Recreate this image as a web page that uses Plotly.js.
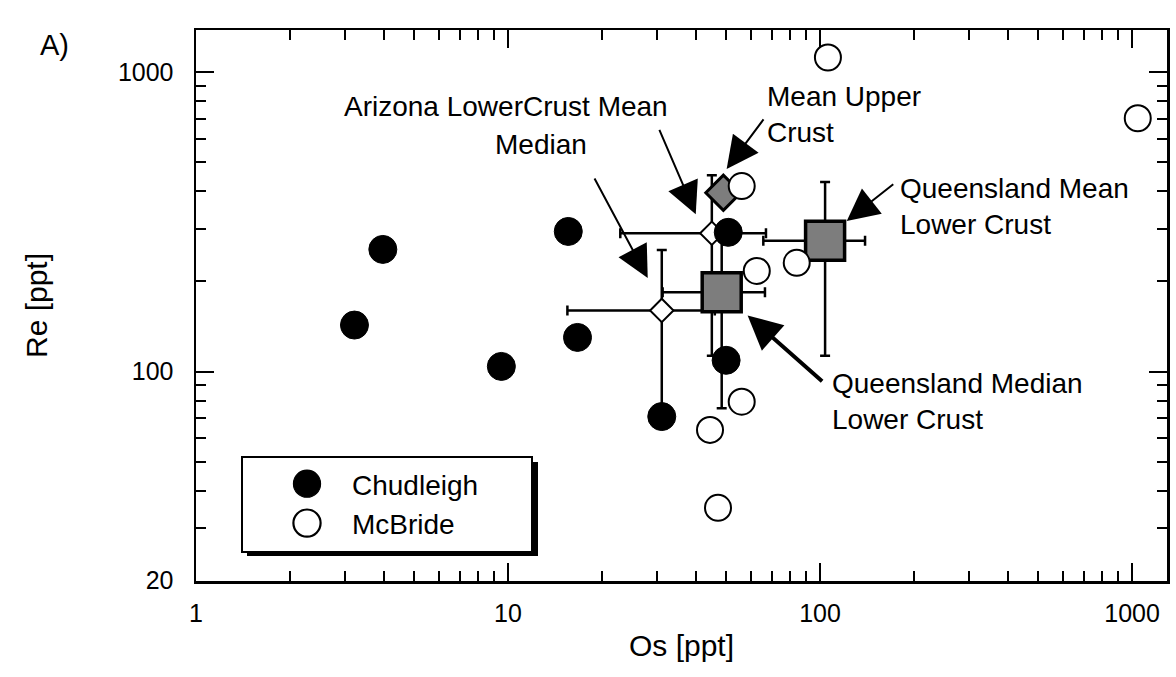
<!DOCTYPE html>
<html>
<head>
<meta charset="utf-8">
<script src="https://cdn.plot.ly/plotly-3.0.1.min.js"></script>
<style>html,body{margin:0;padding:0;background:#fff;}#chart{width:1176px;height:677px;}</style>
</head>
<body>
<div id="chart"></div>
<script>
// ---- data (Os, Re in ppt) ----
const chudOs = [3.97, 3.22, 9.52, 15.6, 16.7, 31.1, 50.8, 50.0];
const chudRe = [256, 143, 104, 294, 130, 70.7, 292, 109];

const mcbOs = [106, 1043, 56.1, 62.7, 84.2, 56.1, 44.4, 47.1];
const mcbRe = [1122, 703, 417, 217, 231, 79.3, 63.8, 35];

// reference values with ranges [low, high]
const azMeanOs = 45.0,  azMeanRe = 290;
const azMeanOsRange = [22.9, 67.1], azMeanReRange = [113, 453];

const azMedOs = 31.1,  azMedRe = 160;
const azMedOsRange = [15.5, 46.0], azMedReRange = [70.7, 255];

const qlMedOs = 48.4,  qlMedRe = 184;
const qlMedOsRange = [31.3, 66.6], qlMedReRange = [75.3, 286];

const qlMeanOs = 103.8, qlMeanRe = 273.5;
const qlMeanOsRange = [65.8, 139.4], qlMeanReRange = [113, 430];

const upperOs = 49.0, upperRe = 396;

const xTickVals = [1, 10, 100, 1000];
const xTickText = ['1', '10', '100', '1000'];
const yTickVals = [20, 100, 1000];
const yTickText = ['20', '100', '1000'];
const xMinor = [2,3,4,5,6,7,8,9,20,30,40,50,60,70,80,90,200,300,400,500,600,700,800,900];
const yMinor = [30,40,50,60,70,80,90,200,300,400,500,600,700,800,900];

function errBar(v, r) { return {type:'data', symmetric:false, array:[r[1]-v], arrayminus:[v-r[0]], color:'#000', thickness:2.5, width:5}; }

const FONT = 'Liberation Sans, Arial, Helvetica, sans-serif';

const traces = [
  {x:[azMeanOs], y:[azMeanRe], mode:'markers', showlegend:false, hoverinfo:'skip',
   error_x: errBar(azMeanOs, azMeanOsRange), error_y: errBar(azMeanRe, azMeanReRange),
   marker:{symbol:'diamond', size:18, color:'#fff', line:{color:'#000', width:2}}},
  {x:[azMedOs], y:[azMedRe], mode:'markers', showlegend:false, hoverinfo:'skip',
   error_x: errBar(azMedOs, azMedOsRange), error_y: errBar(azMedRe, azMedReRange),
   marker:{symbol:'diamond', size:18, color:'#fff', line:{color:'#000', width:2}}},
  {x:[qlMedOs], y:[qlMedRe], mode:'markers', showlegend:false, hoverinfo:'skip',
   error_x: errBar(qlMedOs, qlMedOsRange), error_y: errBar(qlMedRe, qlMedReRange),
   marker:{symbol:'square', size:39, color:'#7d7d7d', line:{color:'#000', width:3.5}}},
  {x:[qlMeanOs], y:[qlMeanRe], mode:'markers', showlegend:false, hoverinfo:'skip',
   error_x: errBar(qlMeanOs, qlMeanOsRange), error_y: errBar(qlMeanRe, qlMeanReRange),
   marker:{symbol:'square', size:39, color:'#7d7d7d', line:{color:'#000', width:3.5}}},
  {x:[upperOs], y:[upperRe], mode:'markers', showlegend:false, hoverinfo:'skip',
   marker:{symbol:'diamond', size:27, color:'#7d7d7d', line:{color:'#000', width:3}}},
  {x:chudOs, y:chudRe, name:'Chudleigh', mode:'markers',
   marker:{symbol:'circle', size:28, color:'#000', line:{color:'#000', width:1}}},
  {x:mcbOs, y:mcbRe, name:'McBride', mode:'markers',
   marker:{symbol:'circle', size:26, color:'#fff', line:{color:'#000', width:2}}}
];

const annFont = {family: FONT, size: 28, color: '#000'};
function arrow(x, y, ax, ay, w, s) {
  return {x: Math.log10(x), y: Math.log10(y), xref:'x', yref:'y', text:'', showarrow:true,
          ax: ax, ay: ay, arrowhead: 2, arrowsize: s, arrowwidth: w, arrowcolor:'#000', standoff:0};
}
function label(x, y, text, xanchor) {
  return {x: Math.log10(x), y: Math.log10(y), xref:'x', yref:'y', text: text, showarrow:false,
          xanchor: xanchor, yanchor:'middle', align:'left', font: annFont};
}

const annotations = [
  label(2.93, 769, 'Arizona LowerCrust Mean', 'left'),
  label(12.76, 573, 'Median', 'center'),
  label(66.6, 726, 'Mean Upper<br>Crust', 'left'),
  label(178, 357, 'Queensland Mean<br>Lower Crust', 'left'),
  label(107.7, 79.3, 'Queensland Median<br>Lower Crust', 'left'),
  arrow(39.96, 335.5, -37, -86, 2, 3.2),
  arrow(28.04, 205.5, -54, -101, 2, 3.2),
  arrow(50.2, 476, 38, -51, 2, 3.2),
  arrow(121.8, 318.7, 48, -38, 2, 3.2),
  arrow(58.6, 153.9, 76, 67, 4, 1.7),
  {x:-0.163, y:0.973, xref:'paper', yref:'paper', text:'A)', showarrow:false,
   xanchor:'left', yanchor:'middle', font:{family: FONT, size: 29, color:'#000'}}
];

// legend frame with drop shadow (plot area spans 196..1167 x 30..581 px)
function px2paperX(p) { return (p - 196) / 971; }
function px2paperY(p) { return (581 - p) / 551; }
const shapes = [
  {type:'rect', xref:'paper', yref:'paper', layer:'above',
   x0:px2paperX(247), x1:px2paperX(538), y0:px2paperY(556), y1:px2paperY(462),
   fillcolor:'#000', line:{width:0}},
  {type:'rect', xref:'paper', yref:'paper', layer:'above',
   x0:px2paperX(242), x1:px2paperX(532), y0:px2paperY(552), y1:px2paperY(457),
   fillcolor:'#fff', line:{color:'#000', width:2}}
];

const axisCommon = {
  type:'log', showline:true, linecolor:'#000', linewidth:2.5, mirror:'ticks',
  ticks:'inside', ticklen:18, tickwidth:2, tickcolor:'#000',
  showgrid:false, zeroline:false,
  tickfont:{family: FONT, size: 25, color:'#000'}
};

const layout = {
  width:1176, height:677,
  margin:{l:196, r:9, t:30, b:96, autoexpand:false},
  paper_bgcolor:'#fff', plot_bgcolor:'#fff',
  font:{family: FONT, color:'#000'},
  showlegend:true,
  legend:{x:px2paperX(262), y:px2paperY(459), xanchor:'left', yanchor:'top',
          bgcolor:'rgba(0,0,0,0)', borderwidth:0,
          font:{family: FONT, size: 28, color:'#000'}, itemwidth:80, tracegroupgap:0},
  xaxis: Object.assign({}, axisCommon, {
    range:[0, 3.112], tickmode:'array', tickvals:xTickVals, ticktext:xTickText,
    ticklabelstandoff: 8,
    minor:{tickmode:'array', tickvals:xMinor, ticks:'inside', ticklen:10, tickwidth:2, tickcolor:'#000', showgrid:false},
    title:{text:'Os [ppt]', font:{family: FONT, size: 30, color:'#000'}, standoff: 10}
  }),
  yaxis: Object.assign({}, axisCommon, {
    range:[1.2995, 3.142], tickmode:'array', tickvals:yTickVals, ticktext:yTickText,
    ticklabelstandoff: 15,
    minor:{tickmode:'array', tickvals:yMinor, ticks:'inside', ticklen:10, tickwidth:2, tickcolor:'#000', showgrid:false},
    title:{text:'Re [ppt]', font:{family: FONT, size: 30, color:'#000'}, standoff: 62}
  }),
  shapes: shapes,
  annotations: annotations
};

Plotly.newPlot('chart', traces, layout, {displayModeBar:false, staticPlot:true}).then(function(gd){
  // enlarge legend symbols to match the figure's marker size
  const pts = gd.querySelectorAll('.legend path.scatterpts');
  pts.forEach(function(p){
    const t = p.getAttribute('transform') || '';
    p.setAttribute('transform', t + ' scale(1.7)');
    const sw = parseFloat(p.style.strokeWidth || '1');
    p.style.strokeWidth = (sw / 1.7 * 1.1) + 'px';
  });
});
</script>
</body>
</html>
